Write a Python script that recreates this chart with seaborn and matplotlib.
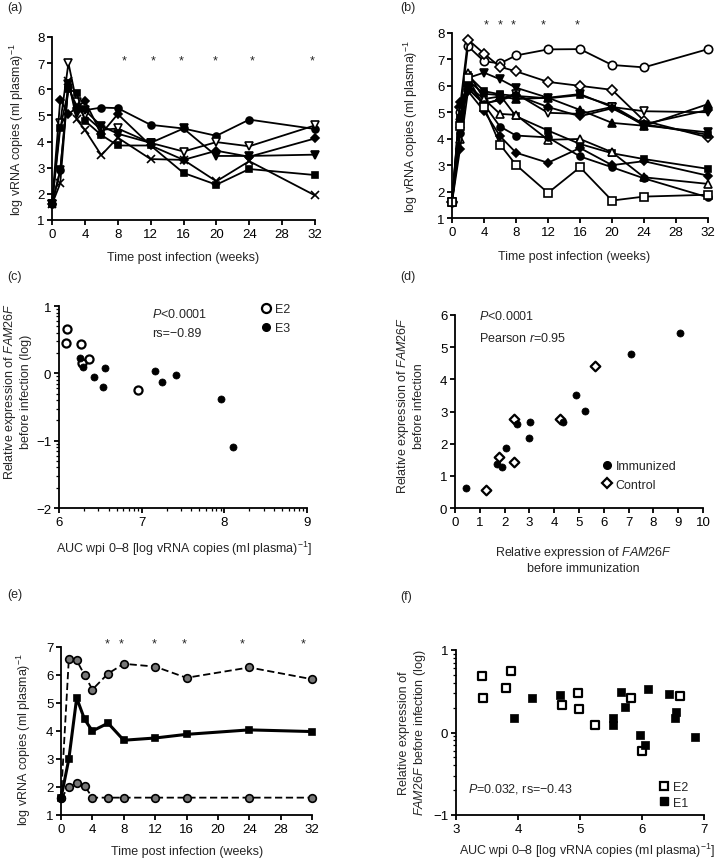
import numpy as np
import pandas as pd
import matplotlib
matplotlib.use("Agg")
import matplotlib.pyplot as plt
import seaborn as sns
from matplotlib.ticker import FixedLocator, FuncFormatter, LogLocator, NullFormatter
from matplotlib.lines import Line2D

# ---------------- data ----------------
# (a) 6 animals
weeks_a = [0, 1, 2, 3, 4, 6, 8, 12, 16, 20, 24, 32]
a_circle = [1.6, 2.9, 6.1, 5.3, 5.2, 5.3, 5.28, 4.64, 4.5, 4.22, 4.84, 4.48]
a_tri_open = [1.6, 4.7, 7.0, 5.5, 5.0, 4.45, 4.5, 3.95, 3.62, 3.98, 3.82, 4.62]
a_diamond = [1.6, 5.6, 5.05, 5.3, 5.55, 4.3, 5.05, 3.85, 3.3, 3.65, 3.42, 4.12]
a_tri = [1.6, 2.9, 6.2, 5.1, 5.2, 4.6, 4.3, 3.95, 4.5, 3.45, 3.45, 3.5]
a_square = [1.6, 4.5, 6.0, 5.87, 4.8, 4.25, 3.85, 3.85, 2.8, 2.35, 2.95, 2.72]
a_cross = [1.6, 2.4, 6.3, 4.85, 4.45, 3.48, 4.15, 3.33, 3.3, 2.48, 3.25, 1.94]
a_star_weeks = [8.8, 12.3, 15.7, 19.8, 24.4, 31.7]

# (b) 12 animals
weeks_b = [0, 1, 2, 4, 6, 8, 12, 16, 20, 24, 32]
b_circle_open = [1.6, 5.0, 7.5, 6.93, 6.85, 7.15, 7.38, 7.39, 6.79, 6.70, 7.39]
b_diamond_open = [1.6, 5.2, 7.75, 7.22, 6.72, 6.55, 6.15, 6.0, 5.85, 4.68, 4.05]
b_tri_down = [1.6, 4.3, 6.3, 6.5, 6.25, 5.93, 5.55, 5.69, 5.2, 4.5, 4.24]
b_square_up = [1.6, 4.8, 6.4, 5.8, 5.68, 5.62, 5.53, 5.65, 5.25, 4.55, 4.15]
b_tri_down_open = [1.6, 4.6, 5.9, 5.3, 5.5, 5.7, 4.98, 4.94, 5.2, 5.04, 5.0]
b_tri_up = [1.6, 5.3, 6.0, 5.5, 5.6, 5.5, 5.55, 5.09, 4.6, 4.49, 5.31]
b_diamond_up = [1.6, 5.4, 5.9, 5.35, 5.45, 5.65, 5.2, 4.85, 5.15, 4.55, 5.09]
b_square_low = [1.6, 4.7, 6.2, 5.7, 5.65, 4.85, 4.31, 3.8, 3.45, 3.23, 2.86]
b_tri_up_open = [1.6, 4.0, 6.5, 5.5, 4.94, 4.9, 3.96, 3.99, 3.49, 2.54, 2.29]
b_circle = [1.6, 4.2, 6.1, 5.3, 4.46, 4.12, 4.05, 3.33, 2.92, 2.5, 1.78]
b_diamond_low = [1.6, 3.6, 5.8, 5.05, 4.1, 3.47, 3.09, 3.65, 3.0, 3.15, 2.6]
b_square_open = [1.6, 4.5, 6.3, 5.2, 3.78, 3.01, 1.95, 2.92, 1.66, 1.81, 1.88]
b_star_weeks = [4.3, 6.0, 7.7, 11.4, 15.6]

# (c) AUC vs FAM26F (log)
c_e2_auc = [6.08, 6.10, 6.27, 6.36, 6.28, 6.95]
c_e2_expr = [0.455, 0.66, 0.44, 0.21, 0.16, -0.25]
c_e3_auc = [6.26, 6.29, 6.42, 6.56, 6.53, 7.16, 7.25, 7.42, 7.96, 8.10]
c_e3_expr = [0.23, 0.10, -0.05, 0.08, -0.21, 0.03, -0.13, -0.03, -0.38, -1.10]

# (d) before immunization vs before infection
d_imm_x = [0.44, 1.70, 1.88, 2.05, 2.50, 2.98, 3.03, 4.34, 4.87, 5.25, 7.11, 9.06]
d_imm_y = [0.61, 1.37, 1.26, 1.88, 2.61, 2.17, 2.66, 2.66, 3.52, 3.01, 4.80, 5.44]
d_ctl_x = [1.23, 1.79, 2.36, 2.38, 4.23, 5.66]
d_ctl_y = [0.56, 1.57, 1.44, 2.77, 2.78, 4.43]

# (e) group curves
weeks_e = [0, 1, 2, 3, 4, 6, 8, 12, 16, 24, 32]
e_high = [1.6, 6.58, 6.52, 6.0, 5.48, 6.05, 6.4, 6.3, 5.9, 6.27, 5.85]
e_mid = [1.6, 3.0, 5.18, 4.42, 4.0, 4.28, 3.67, 3.75, 3.88, 4.04, 3.98]
e_low = [1.6, 2.0, 2.13, 2.05, 1.62, 1.62, 1.62, 1.62, 1.62, 1.62, 1.62]
e_star_weeks = [5.9, 7.7, 11.9, 15.7, 23.1, 30.9]

# (f) AUC vs FAM26F (log)
f_e2_auc = [3.42, 3.43, 3.81, 3.89, 4.71, 4.97, 4.99, 5.24, 5.83, 6.00, 6.61]
f_e2_expr = [0.68, 0.42, 0.54, 0.74, 0.33, 0.48, 0.28, 0.09, 0.42, -0.23, 0.44]
f_e1_auc = [3.94, 4.23, 4.68, 5.53, 5.53, 5.66, 5.72, 5.96, 6.05, 6.10, 6.44, 6.54, 6.55, 6.85]
f_e1_expr = [0.17, 0.42, 0.46, 0.17, 0.09, 0.49, 0.31, -0.03, -0.15, 0.53, 0.47, 0.17, 0.25, -0.05]

# ---------------- style ----------------
sns.set_theme(style="ticks")
plt.rcParams['font.family'] = ['Liberation Sans', 'DejaVu Sans']
plt.rcParams['mathtext.fontset'] = 'custom'
plt.rcParams['mathtext.rm'] = 'Liberation Sans'
plt.rcParams['mathtext.it'] = 'Liberation Sans:italic'
plt.rcParams['mathtext.bf'] = 'Liberation Sans:bold'
plt.rcParams['axes.unicode_minus'] = True

FS = 9
TFS = 9.5
W, H = 720, 862
fig = plt.figure(figsize=(W / 100, H / 100), dpi=100)
fig.patch.set_facecolor('white')


def add_ax(l, t, r, b):
    return fig.add_axes([l / W, 1 - b / H, (r - l) / W, (b - t) / H])


def style(ax):
    sns.despine(ax=ax)
    for s in ['left', 'bottom']:
        ax.spines[s].set_linewidth(1.3)
        ax.spines[s].set_color('black')
    ax.tick_params(axis='both', which='major', direction='out', length=3.5, width=1.3,
                   labelsize=TFS, pad=2, colors='black')
    ax.tick_params(axis='both', which='minor', direction='out', length=2, width=0.9, colors='black')
    ax.set_facecolor('white')


def ylab(ax, text, px, py, box):
    l, t, r, b = box
    ax.set_ylabel(text, fontsize=FS, va='center', ha='center', linespacing=1.25)
    ax.yaxis.set_label_coords((px - l) / (r - l), (b - py) / (b - t))


def xlab(ax, text, px, py, box):
    l, t, r, b = box
    ax.set_xlabel(text, fontsize=FS, va='center', ha='center', linespacing=1.25)
    ax.xaxis.set_label_coords((px - l) / (r - l), (b - py) / (b - t))


def series(ax, x, y, marker, filled, ms=5, lw=1.3, mfc=None, dashes=None):
    face = mfc if mfc is not None else ('black' if filled else 'white')
    kw = dict(color='black', marker=marker, markersize=ms, markerfacecolor=face,
              markeredgecolor='black', markeredgewidth=1.2, linewidth=lw,
              clip_on=False, legend=False, ax=ax)
    if dashes is not None:
        kw['dashes'] = dashes
    sns.lineplot(x=x, y=y, **kw)


VLABEL = 'log vRNA copies (ml plasma)$^{\u22121}$'
TLABEL = 'Time post infection (weeks)'
AUCLABEL = 'AUC wpi 0\u20138 [log vRNA copies (ml plasma)$^{\u22121}$]'

# ---------------- (a) ----------------
box_a = (52, 38, 315, 221)
ax = add_ax(*box_a)
for vals, m, f, ms in [(a_circle, 'o', True, 5), (a_tri_open, 'v', False, 6),
                       (a_diamond, 'D', True, 4.5), (a_tri, 'v', True, 5.5),
                       (a_square, 's', True, 5), (a_cross, 'x', True, 5.5)]:
    series(ax, weeks_a, vals, m, f, ms=ms)
ax.set_xlim(0, 32); ax.set_ylim(1, 8)
ax.xaxis.set_major_locator(FixedLocator(range(0, 33, 4)))
ax.yaxis.set_major_locator(FixedLocator(range(1, 9)))
style(ax)
for w in a_star_weeks:
    ax.text(w, 7.1, '*', ha='center', va='center', fontsize=FS, clip_on=False)
ylab(ax, VLABEL, 17, 130, box_a)
xlab(ax, TLABEL, 183.5, 258, box_a)

# ---------------- (b) ----------------
box_b = (452, 34, 708, 219)
ax = add_ax(*box_b)
for vals, m, f, ms in [(b_circle_open, 'o', False, 6), (b_diamond_open, 'D', False, 5),
                       (b_tri_down, 'v', True, 5.5), (b_square_up, 's', True, 5),
                       (b_tri_down_open, 'v', False, 6), (b_tri_up, '^', True, 5.5),
                       (b_diamond_up, 'D', True, 4.5), (b_square_low, 's', True, 5),
                       (b_tri_up_open, '^', False, 6), (b_circle, 'o', True, 5),
                       (b_diamond_low, 'D', True, 4.5), (b_square_open, 's', False, 6)]:
    series(ax, weeks_b, vals, m, f, ms=ms)
ax.set_xlim(0, 32); ax.set_ylim(1, 8)
ax.xaxis.set_major_locator(FixedLocator(range(0, 33, 4)))
ax.yaxis.set_major_locator(FixedLocator(range(1, 9)))
style(ax)
for w in b_star_weeks:
    ax.text(w, 8.33, '*', ha='center', va='center', fontsize=FS, clip_on=False)
ylab(ax, VLABEL, 411, 127, box_b)
xlab(ax, TLABEL, 574, 257, box_b)

# ---------------- (c) ----------------
box_c = (59, 307, 307, 509)
ax = add_ax(*box_c)
ax.set_xscale('log'); ax.set_yscale('log')
sns.scatterplot(x=10 ** np.array(c_e2_auc), y=10 ** np.array(c_e2_expr), ax=ax, marker='o',
                s=34, color='white', edgecolor='black', linewidth=1.6, clip_on=False, zorder=3)
sns.scatterplot(x=10 ** np.array(c_e3_auc), y=10 ** np.array(c_e3_expr), ax=ax, marker='o',
                s=26, color='black', edgecolor='black', linewidth=0.5, clip_on=False, zorder=4)
ax.set_xlim(1e6, 1e9); ax.set_ylim(1e-2, 1e1)
expfmt = FuncFormatter(lambda v, p: f"{np.log10(v):.0f}".replace('-', '\u2212'))
for axis in (ax.xaxis, ax.yaxis):
    axis.set_major_locator(LogLocator(base=10, numticks=10))
    axis.set_minor_locator(LogLocator(base=10, subs=np.arange(2, 10), numticks=20))
    axis.set_major_formatter(expfmt)
    axis.set_minor_formatter(NullFormatter())
style(ax)
ax.text((151.7 - 59) / 248, (509 - 314) / 202, '$P$<0.0001', transform=ax.transAxes,
        fontsize=FS, ha='left', va='center')
ax.text((151.7 - 59) / 248, (509 - 334.3) / 202, 'rs=\u22120.89', transform=ax.transAxes,
        fontsize=FS, ha='left', va='center')
h_c = [Line2D([], [], ls='none', marker='o', ms=6.5, mfc='white', mec='black', mew=1.6, label='E2'),
       Line2D([], [], ls='none', marker='o', ms=5.5, mfc='black', mec='black', label='E3')]
ax.legend(handles=h_c, loc='upper left', bbox_to_anchor=((261 - 59) / 248, (509 - 304) / 202),
          frameon=False, fontsize=FS, handlelength=0.8, handletextpad=0.3, borderpad=0,
          borderaxespad=0, labelspacing=0.6)
ylab(ax, 'Relative expression of $\\mathit{FAM26F}$\nbefore infection (log)', 17, 392, box_c)
xlab(ax, AUCLABEL, 184, 549, box_c)

# ---------------- (d) ----------------
box_d = (455, 316, 703, 509)
ax = add_ax(*box_d)
sns.scatterplot(x=d_imm_x, y=d_imm_y, ax=ax, marker='o', s=26, color='black',
                edgecolor='black', linewidth=0.5, clip_on=False, zorder=4)
sns.scatterplot(x=d_ctl_x, y=d_ctl_y, ax=ax, marker='D', s=24, color='white',
                edgecolor='black', linewidth=1.6, clip_on=False, zorder=3)
ax.set_xlim(0, 10); ax.set_ylim(0, 6)
ax.xaxis.set_major_locator(FixedLocator(range(0, 11)))
ax.yaxis.set_major_locator(FixedLocator(range(0, 7)))
style(ax)
ax.text((479.3 - 455) / 248, (509 - 316) / 193, '$P$<0.0001', transform=ax.transAxes,
        fontsize=FS, ha='left', va='center')
ax.text((479.3 - 455) / 248, (509 - 338.3) / 193, 'Pearson $r$=0.95', transform=ax.transAxes,
        fontsize=FS, ha='left', va='center')
h_d = [Line2D([], [], ls='none', marker='o', ms=5.5, mfc='black', mec='black', label='Immunized'),
       Line2D([], [], ls='none', marker='D', ms=5, mfc='white', mec='black', mew=1.6, label='Control')]
ax.legend(handles=h_d, loc='upper left', bbox_to_anchor=((602 - 455) / 248, (509 - 461.5) / 193),
          frameon=False, fontsize=FS, handlelength=0.8, handletextpad=0.3, borderpad=0,
          borderaxespad=0, labelspacing=0.5)
ylab(ax, 'Relative expression of $\\mathit{FAM26F}$\nbefore infection', 410, 406, box_d)
xlab(ax, 'Relative expression of $\\mathit{FAM26F}$\nbefore immunization', 583, 560, box_d)

# ---------------- (e) ----------------
box_e = (61, 648, 312, 816)
ax = add_ax(*box_e)
series(ax, weeks_e, e_high, 'o', True, ms=5.5, lw=1.3, mfc='#777777', dashes=(4, 2))
series(ax, weeks_e, e_low, 'o', True, ms=5.5, lw=1.3, mfc='#777777', dashes=(4, 2))
series(ax, weeks_e, e_mid, 's', True, ms=4.5, lw=2.2)
ax.set_xlim(0, 32); ax.set_ylim(1, 7)
ax.xaxis.set_major_locator(FixedLocator(range(0, 33, 4)))
ax.yaxis.set_major_locator(FixedLocator(range(1, 8)))
style(ax)
for w in e_star_weeks:
    ax.text(w, 7.12, '*', ha='center', va='center', fontsize=FS, clip_on=False)
ylab(ax, VLABEL, 24, 740, box_e)
xlab(ax, TLABEL, 187.5, 852, box_e)

# ---------------- (f) ----------------
box_f = (456, 651, 704, 816)
ax = add_ax(*box_f)
ax.set_yscale('log')
sns.scatterplot(x=f_e2_auc, y=10 ** np.array(f_e2_expr), ax=ax, marker='s', s=30,
                color='white', edgecolor='black', linewidth=1.6, clip_on=False, zorder=3)
sns.scatterplot(x=f_e1_auc, y=10 ** np.array(f_e1_expr), ax=ax, marker='s', s=28,
                color='black', edgecolor='black', linewidth=0.5, clip_on=False, zorder=4)
ax.set_xlim(3, 7); ax.set_ylim(1e-1, 1e1)
ax.xaxis.set_major_locator(FixedLocator(range(3, 8)))
ax.yaxis.set_major_locator(LogLocator(base=10, numticks=10))
ax.yaxis.set_minor_locator(LogLocator(base=10, subs=np.arange(2, 10), numticks=20))
ax.yaxis.set_major_formatter(expfmt)
ax.yaxis.set_minor_formatter(NullFormatter())
style(ax)
ax.text((468.3 - 456) / 248, (816 - 789.3) / 165, '$P$=0.032, rs=\u22120.43', transform=ax.transAxes,
        fontsize=FS, ha='left', va='center')
h_f = [Line2D([], [], ls='none', marker='s', ms=5.5, mfc='white', mec='black', mew=1.6, label='E2'),
       Line2D([], [], ls='none', marker='s', ms=5.5, mfc='black', mec='black', label='E1')]
ax.legend(handles=h_f, loc='upper left', bbox_to_anchor=((659 - 456) / 248, (816 - 782) / 165),
          frameon=False, fontsize=FS, handlelength=0.8, handletextpad=0.3, borderpad=0,
          borderaxespad=0, labelspacing=0.3)
ylab(ax, 'Relative expression of\n$\\mathit{FAM26F}$ before infection (log)', 413, 733, box_f)
xlab(ax, AUCLABEL, 587, 851, box_f)

# ---------------- panel letters ----------------
for lab, px, py in [('(a)', 7, 8), ('(b)', 400, 8), ('(c)', 7, 277), ('(d)', 400, 277),
                    ('(e)', 7, 595), ('(f)', 400, 597)]:
    fig.text(px / W, 1 - py / H, lab, fontsize=FS, ha='left', va='center')

fig.savefig('out.png', dpi=100, facecolor='white')
